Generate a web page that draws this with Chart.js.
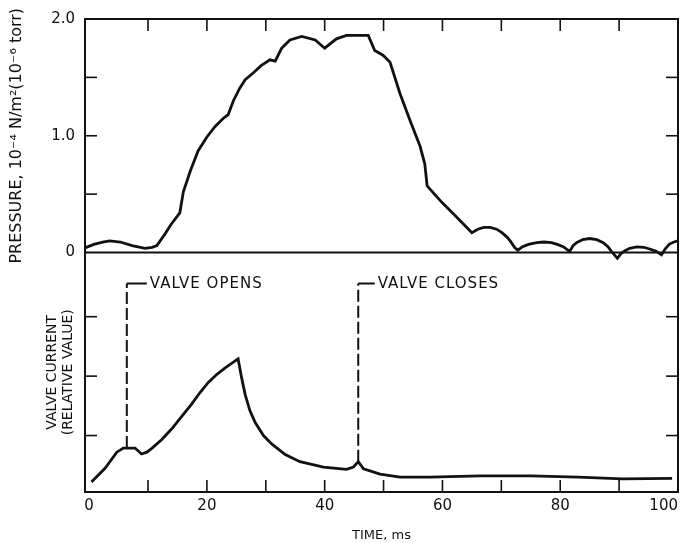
<!DOCTYPE html>
<html>
<head>
<meta charset="utf-8">
<script src="https://cdn.jsdelivr.net/npm/chart.js@4.4.0/dist/chart.umd.min.js"></script>
<style>
  html, body { margin: 0; padding: 0; background: #fff; }
  canvas { display: block; }
</style>
</head>
<body>
<canvas id="valveChart" width="683" height="543"></canvas>
<script>
// pressure trace (ms, 10^-4 N/m^2)
const pressureTime = [-0.7, 0.8, 2.3, 3.5, 5.3, 7.3, 9.5, 10.7, 11.5, 12.9, 13.9, 15.4, 16.0, 17.2, 18.5, 20.0, 21.4,
  22.8, 23.6, 24.5, 25.6, 26.5, 27.9, 29.2, 30.7, 31.6, 32.7, 34.1, 36.1, 38.4, 40.0, 42.0, 43.7, 47.4, 48.5,
  49.9, 51.1, 52.8, 54.5, 56.2, 57.0, 57.4, 59.9, 62.1, 65.0, 66.0, 67.0, 68.1, 69.2, 70.1, 71.0, 71.5, 72.3,
  72.8, 73.6, 74.6, 76.0, 77.2, 78.5, 79.5, 80.5, 81.6, 82.2, 82.8, 83.8, 85.0, 86.2, 87.3, 88.1, 88.7, 89.7,
  90.3, 91.0, 91.8, 93.0, 94.2, 95.2, 96.3, 97.2, 97.8, 98.5, 99.3, 100];
const pressureValue = [0.04, 0.07, 0.09, 0.10, 0.09, 0.06, 0.035, 0.045, 0.06, 0.16, 0.24, 0.34, 0.52, 0.70, 0.87, 0.99, 1.08,
  1.15, 1.18, 1.30, 1.41, 1.48, 1.54, 1.60, 1.65, 1.64, 1.75, 1.82, 1.85, 1.82, 1.75, 1.83, 1.86, 1.86, 1.73,
  1.69, 1.63, 1.36, 1.13, 0.91, 0.76, 0.57, 0.43, 0.32, 0.17, 0.20, 0.215, 0.215, 0.20, 0.17, 0.13, 0.10, 0.04,
  0.02, 0.05, 0.07, 0.085, 0.09, 0.085, 0.07, 0.05, 0.01, 0.06, 0.085, 0.11, 0.12, 0.11, 0.085, 0.05, 0.01, -0.05,
  -0.01, 0.015, 0.036, 0.048, 0.045, 0.03, 0.01, -0.02, 0.03, 0.07, 0.09, 0.10];

// valve current (relative)
const currentTime = [0.4, 2.7, 4.7, 5.8, 7.8, 8.9, 9.8, 10.6, 12.3, 14.0, 15.7, 17.4, 18.8, 20.2, 21.7, 23.1, 25.3,
  25.9, 26.5, 27.3, 28.2, 29.6, 31.0, 33.3, 35.8, 39.8, 43.7, 44.9, 45.7, 46.6, 49.4, 52.8, 57.9, 66.4, 75.0,
  83.0, 90.6, 99.0];
const currentValue = [0.22, 0.45, 0.72, 0.79, 0.79, 0.69, 0.72, 0.78, 0.93, 1.11, 1.32, 1.53, 1.72, 1.89, 2.03, 2.14, 2.29,
  1.97, 1.69, 1.42, 1.22, 1.0, 0.86, 0.68, 0.56, 0.47, 0.43, 0.47, 0.56, 0.44, 0.35, 0.30, 0.30, 0.32, 0.32,
  0.30, 0.27, 0.28];

// valve events
const eventTime = [6.4, 45.7];
const eventLevel = [0.79, 0.56];
const eventLabels = ['VALVE OPENS', 'VALVE CLOSES'];
const bracketEnd = [9.8, 48.5];
const markerLevel = 3.56;

const xTicks = [-0.7, 0, 10, 20, 30, 40, 50, 60, 70, 80, 90, 100];
const pressureTicks = [0, 0.5, 1, 1.5, 2];
const currentTicks = [1, 2, 3];

const INK = '#111';
Chart.defaults.font.family = "'DejaVu Sans', sans-serif";
Chart.defaults.color = INK;

function pts(xs, ys) {
  return xs.map((t, i) => ({ x: t, y: ys[i] }));
}

// frame, zero line, inward tick marks and event labels
const framePlugin = {
  id: 'frame',
  afterDatasetsDraw(chart) {
    const { ctx, chartArea: a, scales } = chart;
    const x = scales.x, y = scales.y, y2 = scales.y2;
    const seg = (x1, y1, x2, y2_) => {
      ctx.beginPath(); ctx.moveTo(x1, y1); ctx.lineTo(x2, y2_); ctx.stroke();
    };
    ctx.save();
    ctx.strokeStyle = INK;
    ctx.lineWidth = 2;
    ctx.strokeRect(a.left, a.top, a.width, a.height);
    const y0 = y.getPixelForValue(0);
    seg(a.left, y0, a.right, y0);

    ctx.lineWidth = 1.6;
    x.ticks.forEach(t => {
      if (t.value <= 0 || t.value >= 100) return;
      const px = x.getPixelForValue(t.value);
      seg(px, a.top, px, a.top + 12);
      seg(px, a.bottom, px, a.bottom - 12);
    });
    [y, y2].forEach(s => {
      s.ticks.forEach(t => {
        if (t.value <= s.min || t.value >= s.max) return;
        const py = s.getPixelForValue(t.value);
        seg(a.left, py, a.left + 12, py);
        seg(a.right, py, a.right - 12, py);
      });
    });

    ctx.fillStyle = INK;
    ctx.font = "15px 'DejaVu Sans', sans-serif";
    ctx.letterSpacing = '1px';
    ctx.textBaseline = 'middle';
    ctx.textAlign = 'left';
    eventLabels.forEach((txt, i) => {
      ctx.fillText(txt, x.getPixelForValue(bracketEnd[i]) + 3, y2.getPixelForValue(markerLevel) + 1);
    });
    ctx.restore();
  }
};

const datasets = [
  { data: pts(pressureTime, pressureValue), yAxisID: 'y', borderColor: INK, borderWidth: 2.8,
    pointRadius: 0, tension: 0, fill: false, clip: false },
  { data: pts(currentTime, currentValue), yAxisID: 'y2', borderColor: INK, borderWidth: 2.8,
    pointRadius: 0, tension: 0, fill: false }
];
eventTime.forEach((t, i) => {
  datasets.push({
    data: [{ x: t, y: eventLevel[i] }, { x: t, y: markerLevel }, { x: bracketEnd[i], y: markerLevel }],
    yAxisID: 'y2', borderColor: INK, borderWidth: 2, pointRadius: 0, tension: 0, fill: false,
    segment: { borderDash: c => c.p0DataIndex === 0 ? [12, 4] : [] }
  });
});

new Chart(document.getElementById('valveChart'), {
  type: 'line',
  data: { datasets: datasets },
  options: {
    responsive: false,
    animation: false,
    layout: { padding: { top: 14, right: 5, left: 0, bottom: 0 } },
    plugins: { legend: { display: false }, tooltip: { enabled: false } },
    scales: {
      x: {
        type: 'linear', position: 'bottom', min: -0.7, max: 100,
        grid: { display: false, drawTicks: false },
        border: { display: false },
        afterBuildTicks: s => { s.ticks = xTicks.map(v => ({ value: v })); },
        afterFit: s => { s.height = 51; s.paddingLeft = 0; s.paddingRight = 0; },
        ticks: {
          align: 'inner', autoSkip: false, maxRotation: 0, padding: 5, font: { size: 15 },
          callback: v => (v >= 0 && v % 20 === 0) ? String(v) : ''
        },
        title: { display: true, text: 'TIME, ms', font: { size: 13 }, padding: { top: 0, bottom: 0 } }
      },
      y: {
        type: 'linear', position: 'left', stack: 'panels', stackWeight: 236, weight: 2,
        min: 0, max: 2,
        grid: { display: false, drawTicks: false },
        border: { display: false },
        afterBuildTicks: s => { s.ticks = pressureTicks.map(v => ({ value: v })); },
        afterFit: s => { s.width = 85; },
        ticks: {
          padding: 10, font: { size: 15 },
          callback: v => v === 0 ? '0' : (v === 1 || v === 2) ? v.toFixed(1) : ''
        },
        title: { display: true, text: 'PRESSURE, 10⁻⁴ N/m²(10⁻⁶ torr)', font: { size: 16 },
          padding: { top: 7, bottom: 0 } }
      },
      y2: {
        type: 'linear', position: 'left', stack: 'panels', stackWeight: 242, weight: 1,
        min: 0.05, max: 4.08,
        grid: { display: false, drawTicks: false },
        border: { display: false },
        afterBuildTicks: s => { s.ticks = currentTicks.map(v => ({ value: v })); },
        afterFit: s => { s.width = 85; },
        ticks: { padding: 10, font: { size: 15 }, callback: () => '' },
        title: { display: true, text: ['VALVE CURRENT', '(RELATIVE VALUE)'],
          font: { size: 14, lineHeight: 1.15 }, padding: { top: 44, bottom: 0 } }
      }
    }
  },
  plugins: [framePlugin]
});
</script>
</body>
</html>
